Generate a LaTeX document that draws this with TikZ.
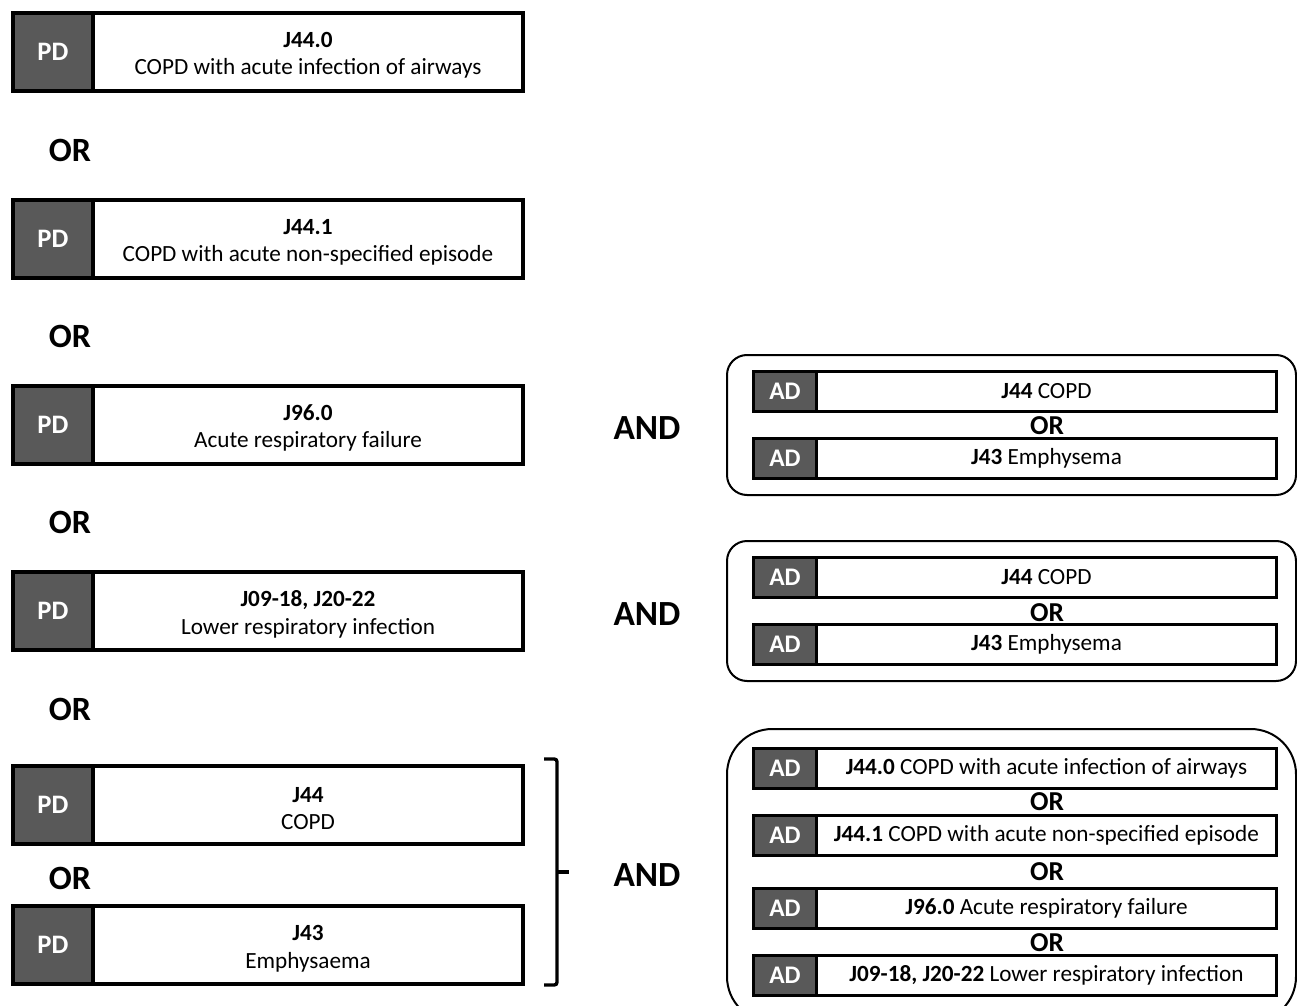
\documentclass[tikz,border=0pt]{standalone}
\usepackage{fontspec}
\setmainfont{Carlito}
\usetikzlibrary{positioning}
\definecolor{boxgray}{RGB}{89,89,89}
\tikzset{
  codelabel/.style={draw, fill=boxgray, text=white, line width=3pt, outer sep=0pt,
    minimum width=60pt, minimum height=58.5pt, font=\fontsize{20}{23}\selectfont\bfseries},
  codetext/.style={draw, fill=white, line width=3pt, outer sep=0pt,
    minimum width=322.5pt, minimum height=58.5pt, align=center, font=\fontsize{17.4}{20.3}\selectfont},
  adlabel/.style={codelabel, line width=2.25pt, minimum width=47.6pt, minimum height=30pt,
    font=\fontsize{19}{22}\selectfont\bfseries},
  adtext/.style={codetext, line width=2.25pt, minimum width=344.6pt, minimum height=30pt},
  bigword/.style={font=\fontsize{25.5}{29}\selectfont\bfseries},
  smallor/.style={font=\fontsize{20.5}{24}\selectfont\bfseries, inner sep=0pt},
  groupbox/.style={line width=1.5pt, rounded corners=15pt}
}
\begin{document}
\begin{tikzpicture}[x=0.75pt,y=-0.75pt]
    \useasboundingbox (0,0) rectangle (1297,1006);

    % draw the principal diagnoses
    \foreach \y/\code/\desc/\n in {
      52/J44.0/COPD with acute infection of airways/1,
      239/J44.1/COPD with acute non-specified episode/2,
      425/J96.0/Acute respiratory failure/3,
      611/{J09-18, J20-22}/Lower respiratory infection/4,
      805/J44/COPD/5,
      945/J43/Emphysaema/6} {
      \node[codelabel] (pd\n) at (53,\y) {PD};
      \node[codetext, right=0pt of pd\n] (pdt\n) {\rule{0pt}{17pt}\textbf{\code}\\\desc};
    }

    % draw the OR between them
    \foreach \y/\n in {150/1, 336/2, 522/3, 709/4, 878/5}
      \node[bigword] (or\n) at (70,\y) {OR};

    % draw the AND words
    \node[bigword, font=\fontsize{26.5}{30}\selectfont\bfseries] (and1) at (647,428) {AND};
    \node[bigword, font=\fontsize{26.5}{30}\selectfont\bfseries] (and2) at (647,614) {AND};
    \node[bigword, font=\fontsize{26.5}{30}\selectfont\bfseries] (and3) at (647,875) {AND};

    % brace round the last two
    \draw[line width=2.5pt, rounded corners=2pt] (544,759) -| (557,985) -- (544,985);
    \draw[line width=2.5pt] (557,872) -- (569,872);

    % draw the groups of additional diagnoses
    \draw[groupbox] (727,355) rectangle (1296,495);
    \draw[groupbox] (727,541) rectangle (1296,681);
    \draw[groupbox, rounded corners=34pt] (727,729) rectangle (1296,1022);

    \foreach \y/\txt/\n in {
      391.5/{\textbf{J44} COPD}/1,
      458.5/{\textbf{J43} Emphysema}/2,
      577.5/{\textbf{J44} COPD}/3,
      644.5/{\textbf{J43} Emphysema}/4,
      768/{\textbf{J44.0} COPD with acute infection of airways}/5,
      835.5/{\textbf{J44.1} COPD with acute non-specified episode}/6,
      908/{\textbf{J96.0} Acute respiratory failure}/7,
      975/{\textbf{J09-18, J20-22} Lower respiratory infection}/8} {
      \node[adlabel] (ad\n) at (785,\y) {AD};
      \node[adtext, right=0pt of ad\n] (adt\n) {\txt};
    }

    % the OR inside the groups
    \foreach \y/\n in {426/1, 613/2, 802/3, 872/4, 943/5}
      \node[smallor] (aor\n) at (1047,\y) {OR};
\end{tikzpicture}
\end{document}
